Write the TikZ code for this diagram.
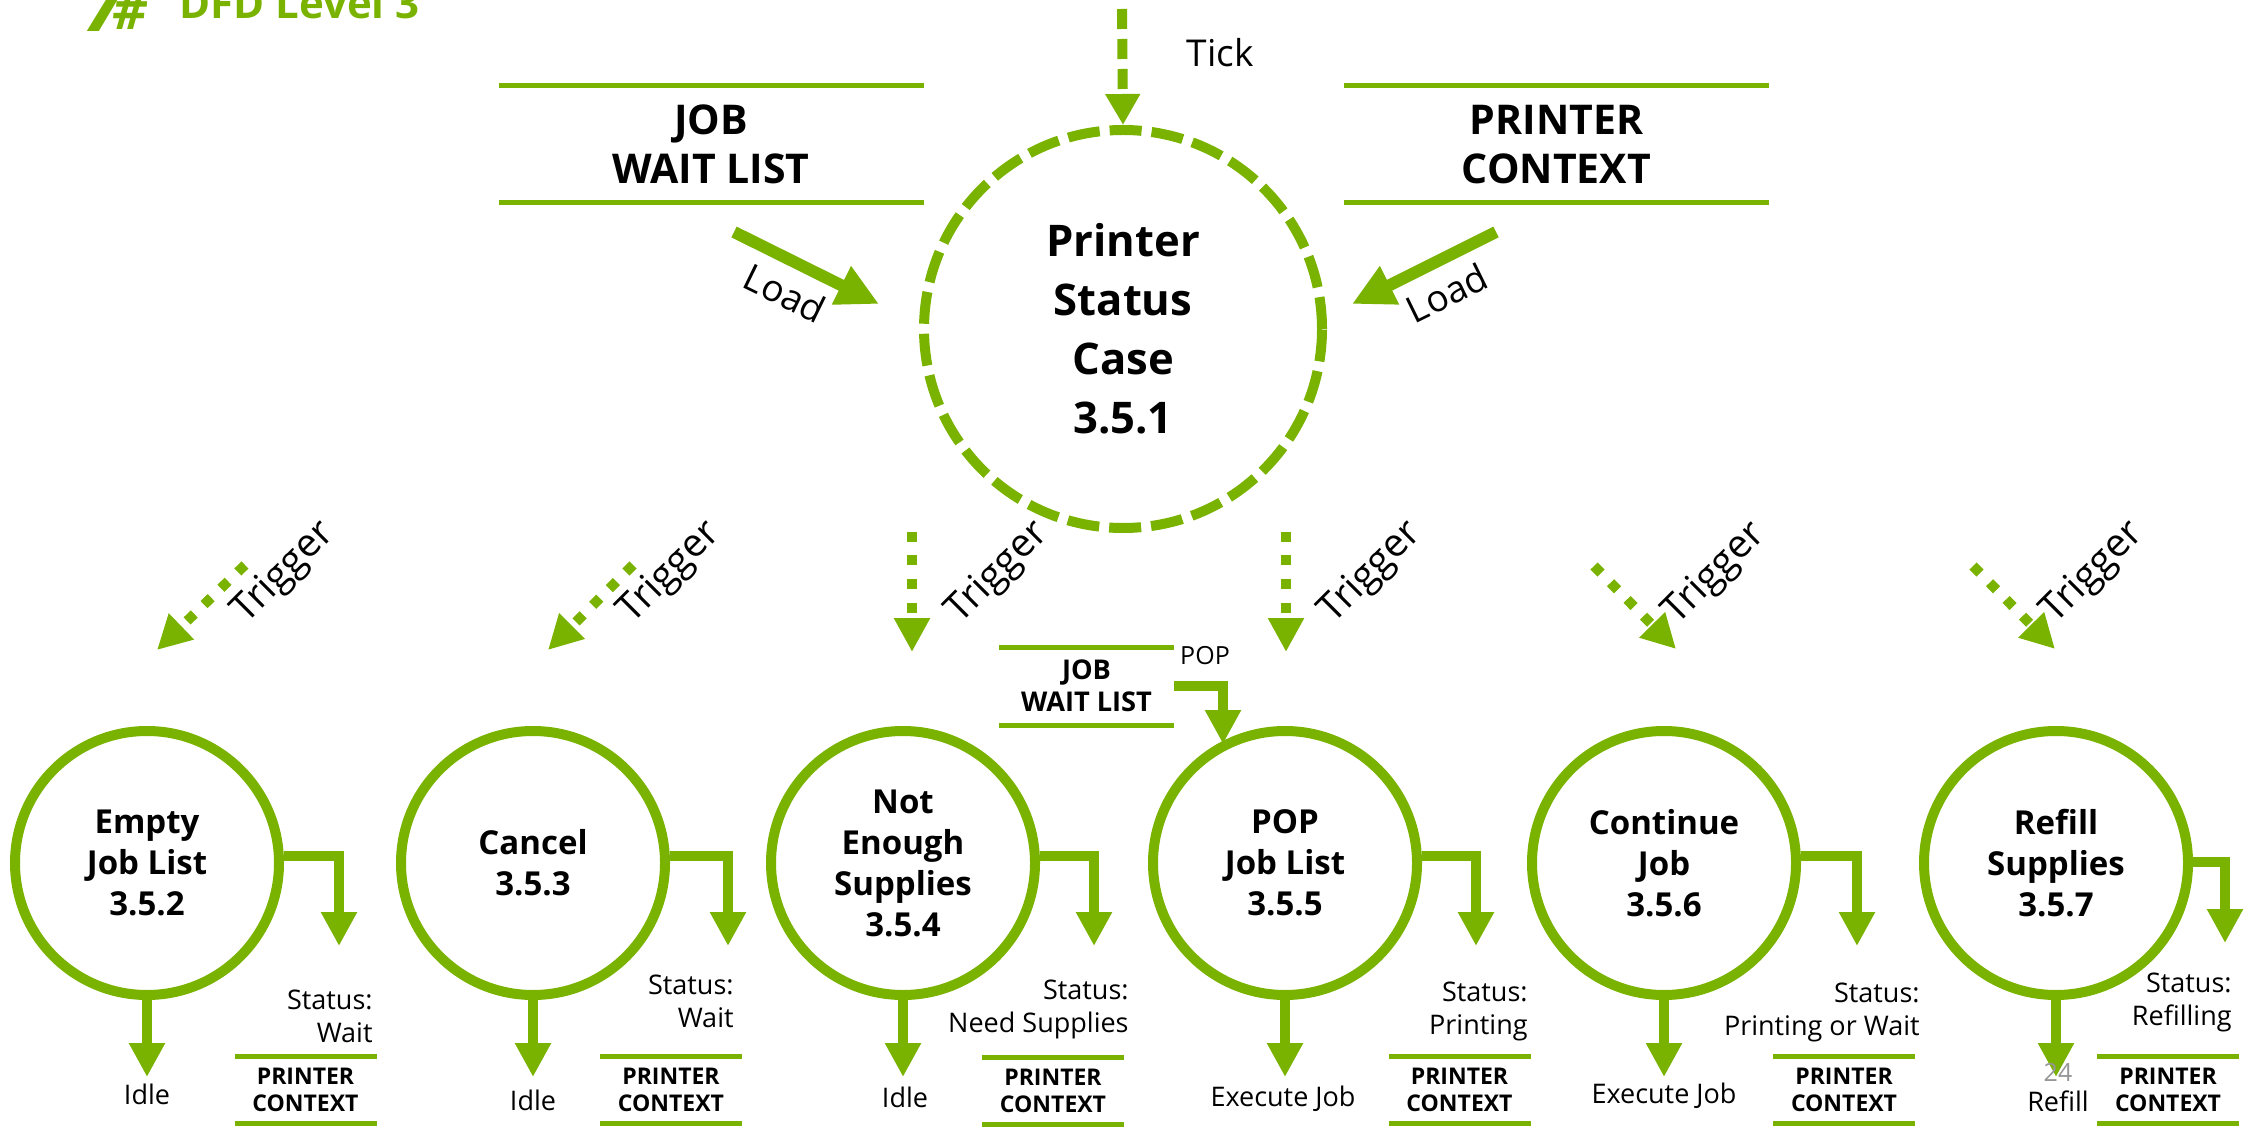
\documentclass[tikz,border=0pt]{standalone}
\usepackage{fontspec}
\setmainfont{Open Sans}
\usetikzlibrary{arrows.meta}
\definecolor{dfdgreen}{RGB}{122,178,0}
\definecolor{pagegray}{RGB}{150,150,150}
\begin{document}
\begin{tikzpicture}[x=0.5pt,y=-0.5pt,
  proc/.style={circle, draw=dfdgreen, line width=5pt, minimum size=132pt, inner sep=0pt,
    align=center, font=\fontsize{16.5}{20.5}\selectfont\bfseries},
  mainproc/.style={circle, draw=dfdgreen, line width=5pt, minimum size=199pt, inner sep=0pt,
    dash pattern=on 16pt off 5pt, align=center, font=\fontsize{21.8}{29.5}\selectfont\bfseries},
  bigstore/.style={minimum width=212.5pt, minimum height=58.5pt, inner sep=0pt, outer sep=0pt,
    align=center, font=\fontsize{20.5}{24.5}\selectfont\bfseries},
  midstore/.style={minimum width=87.5pt, minimum height=39pt, inner sep=0pt, outer sep=0pt,
    align=center, font=\fontsize{13.6}{16}\selectfont\bfseries},
  smallstore/.style={minimum width=71pt, minimum height=33.5pt, inner sep=0pt, outer sep=0pt,
    align=center, font=\fontsize{11.5}{13.5}\selectfont\bfseries},
  storeline/.style={draw=dfdgreen, line width=2.5pt},
  lbl/.style={inner sep=0pt, font=\fontsize{13.5}{16.5}\selectfont},
  biglbl/.style={inner sep=0pt, font=\fontsize{18.5}{22}\selectfont},
  triglbl/.style={inner sep=0pt, rotate=45, font=\fontsize{19.5}{22}\selectfont},
  flow/.style={draw=dfdgreen, line width=5pt, -{Triangle[length=17pt,width=17pt]}},
  trig/.style={draw=dfdgreen, line width=5pt, dash pattern=on 5pt off 6.75pt,
    -{Triangle[length=17pt,width=17pt]}},
  tickflow/.style={draw=dfdgreen, line width=5pt, dash pattern=on 10pt off 5pt,
    -{Triangle[length=15.5pt,width=16.5pt]}},
  loadflow/.style={draw=dfdgreen, line width=6pt, -{Triangle[length=21pt,width=20pt]}}
]
\useasboundingbox (0,0) rectangle (2246,1127);

% title (cut at top)
\node[anchor=base west, inner sep=0pt, text=dfdgreen, font=\fontsize{36}{38}\selectfont\bfseries\itshape] (t7) at (84,32) {7};
\node[anchor=base west, inner sep=0pt, text=dfdgreen, font=\fontsize{27}{29}\selectfont\bfseries\itshape] (thash) at (112,30) {\#};
\node[anchor=base west, inner sep=0pt, text=dfdgreen, font=\fontsize{21}{24}\selectfont\bfseries] (ttitle) at (179,19) {DFD Level 3};

% main process
\node[mainproc] (p1) at (1123,329) {Printer\\Status\\Case\\3.5.1};

% top stores
\node[bigstore] (jwl) at (711,144.5) {JOB\\WAIT LIST};
\node[bigstore] (pc) at (1556.5,144.5) {PRINTER\\CONTEXT};

% sub processes
\node[proc] (p2) at (147,863) {Empty\\Job List\\3.5.2};
\node[proc] (p3) at (533,863) {Cancel\\3.5.3};
\node[proc] (p4) at (903,863) {Not\\Enough\\Supplies\\3.5.4};
\node[proc] (p5) at (1285,863) {POP\\Job List\\3.5.5};
\node[proc] (p6) at (1664,863) {Continue\\Job\\3.5.6};
\node[proc] (p7) at (2056,863) {Refill\\Supplies\\3.5.7};

% middle store
\node[midstore] (sjwl) at (1086.5,686) {JOB\\WAIT LIST};

% bottom stores
\node[smallstore] (c2) at (305.5,1089.5) {PRINTER\\CONTEXT};
\node[smallstore] (c3) at (671,1089.5) {PRINTER\\CONTEXT};
\node[smallstore] (c4) at (1053,1090.5) {PRINTER\\CONTEXT};
\node[smallstore] (c5) at (1459.5,1089.5) {PRINTER\\CONTEXT};
\node[smallstore] (c6) at (1844,1089.5) {PRINTER\\CONTEXT};
\node[smallstore] (c7) at (2168,1090) {PRINTER\\CONTEXT};

\foreach \s in {jwl,pc,sjwl,c2,c3,c4,c5,c6,c7}{
  \draw[storeline] (\s.north west) -- (\s.north east);
  \draw[storeline] (\s.south west) -- (\s.south east);
}

% tick
\coordinate (tk) at (1122,9);
\draw[tickflow] (tk) -- (p1.north);
\node[biglbl] (ticklbl) at (1220,53) {Tick};

% load arrows
\coordinate (l1s) at (734,232);
\coordinate (l1e) at (879,304);
\coordinate (l2s) at (1496,232);
\coordinate (l2e) at (1352,304);
\draw[loadflow] (l1s) -- (l1e);
\draw[loadflow] (l2s) -- (l2e);
\node[biglbl, rotate=-26] (load1) at (785,293) {Load};
\node[biglbl, rotate=26] (load2) at (1447,293) {Load};

% triggers
\coordinate (t1s) at (245,565);  \coordinate (t1e) at (157,650);
\coordinate (t2s) at (633,565);  \coordinate (t2e) at (548,650);
\coordinate (t3s) at (912,532);  \coordinate (t3e) at (912,652);
\coordinate (t4s) at (1286,532); \coordinate (t4e) at (1286,652);
\coordinate (t5s) at (1594,566); \coordinate (t5e) at (1676,649);
\coordinate (t6s) at (1973,566); \coordinate (t6e) at (2055,649);
\foreach \i in {1,...,6}{\draw[trig] (t\i s) -- (t\i e);}
\node[triglbl] (tr1) at (284,573) {Trigger};
\node[triglbl] (tr2) at (670,573) {Trigger};
\node[triglbl] (tr3) at (998,573) {Trigger};
\node[triglbl] (tr4) at (1371,573) {Trigger};
\node[triglbl] (tr5) at (1715,574) {Trigger};
\node[triglbl] (tr6) at (2093,573) {Trigger};

% POP flow
\coordinate (popend) at (1223,744);
\draw[flow] (sjwl.east) -| (popend);
\node[lbl, font=\fontsize{12.5}{15}\selectfont] (poplbl) at (1205,656) {POP};

% status outputs
\coordinate (o2) at (339,946);
\coordinate (o3) at (728,946);
\coordinate (o4) at (1094,946);
\coordinate (o5) at (1476,946);
\coordinate (o6) at (1857,946);
\coordinate (o7) at (2225,943);
\draw[flow] ([yshift=3.5pt]p2.east) -| (o2);
\draw[flow] ([yshift=3.5pt]p3.east) -| (o3);
\draw[flow] ([yshift=3.5pt]p4.east) -| (o4);
\draw[flow] ([yshift=3.5pt]p5.east) -| (o5);
\draw[flow] ([yshift=3.5pt]p6.east) -| (o6);
\draw[flow] ([yshift=0.5pt]p7.east) -| (o7);

% bottom outputs
\coordinate (i2) at (147,1077);
\coordinate (i3) at (533,1077);
\coordinate (i4) at (903,1077);
\coordinate (i5) at (1285,1077);
\coordinate (i6) at (1664,1077);
\coordinate (i7) at (2056,1077);
\foreach \i in {2,...,7}{\draw[flow] (p\i.south) -- (i\i);}

% labels
\node[lbl, anchor=east, align=right] (s2) at (373,1016) {Status:\\Wait};
\node[lbl, anchor=east, align=right] (s3) at (734,1001) {Status:\\Wait};
\node[lbl, anchor=east, align=right] (s4) at (1129,1009) {Status:\\Need Supplies};
\node[lbl, anchor=east, align=right] (s5) at (1528,1011) {Status:\\Printing};
\node[lbl, anchor=east, align=right] (s6) at (1920,1012) {Status:\\Printing or Wait};
\node[lbl, anchor=east, align=right] (s7) at (2232,1002) {Status:\\Refilling};

\node[lbl] (b2) at (147,1094) {Idle};
\node[lbl] (b3) at (533,1100) {Idle};
\node[lbl] (b4) at (905,1097) {Idle};
\node[lbl] (b5) at (1283,1099) {Execute Job};
\node[lbl] (b6) at (1664,1096) {Execute Job};
\node[lbl] (b7) at (2058,1101) {Refill};

\node[lbl, text=pagegray, font=\fontsize{12.5}{15}\selectfont] (pagenum) at (2058,1072) {24};
\end{tikzpicture}
\end{document}
